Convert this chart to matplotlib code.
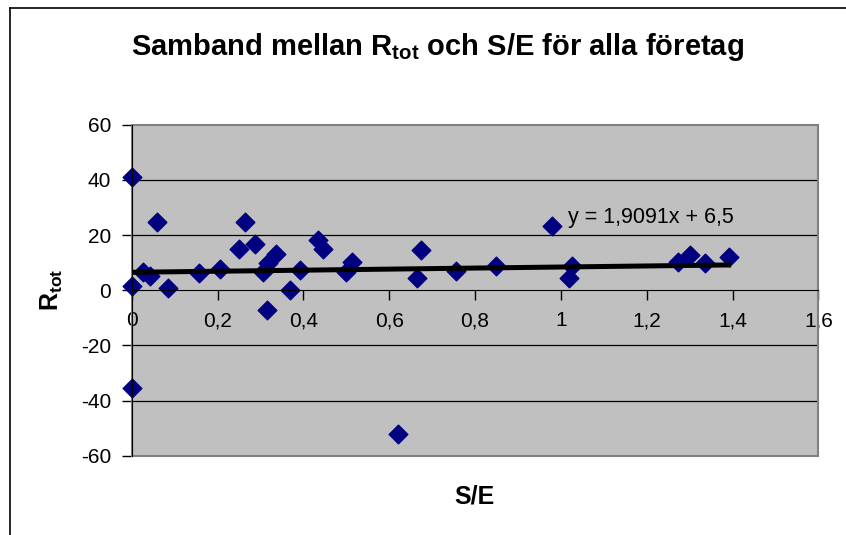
import matplotlib
matplotlib.use('Agg')
import numpy as np
import matplotlib.pyplot as plt
from matplotlib.patches import Rectangle
from matplotlib.lines import Line2D

plt.rcParams['font.family'] = ['Liberation Sans', 'DejaVu Sans']
plt.rcParams['mathtext.fontset'] = 'custom'
plt.rcParams['mathtext.rm'] = 'Liberation Sans'
plt.rcParams['mathtext.bf'] = 'Liberation Sans:bold'
plt.rcParams['axes.unicode_minus'] = False

# S/E and R_tot per company
se = [0.0, 0.0, 0.0, 0.027, 0.043, 0.058, 0.084, 0.157, 0.206, 0.250, 0.264,
      0.287, 0.307, 0.315, 0.318, 0.336, 0.369, 0.392, 0.435, 0.445, 0.500,
      0.513, 0.620, 0.664, 0.674, 0.756, 0.848, 0.980, 1.019, 1.027, 1.274,
      1.300, 1.335, 1.391]
rtot = [41.0, 1.4, -35.3, 6.7, 5.1, 24.6, 0.9, 6.3, 7.7, 15.0, 24.7,
        16.8, 6.5, -7.0, 9.9, 13.2, -0.1, 7.2, 18.1, 15.1, 6.5,
        10.3, -52.2, 4.5, 14.7, 7.1, 8.7, 23.4, 4.5, 8.7, 10.3,
        12.9, 9.9, 12.1]

# trendline as given in the chart
slope = 1.9091
intercept = 6.5

xticks = [0, 0.2, 0.4, 0.6, 0.8, 1.0, 1.2, 1.4, 1.6]
xticklabels = ['0', '0,2', '0,4', '0,6', '0,8', '1', '1,2', '1,4', '1,6']
yticks = [-60, -40, -20, 0, 20, 40, 60]

fig = plt.figure(figsize=(8.46, 5.35), dpi=100)
ax = fig.add_axes([0.1557, 0.1482, 0.9673 - 0.1557, 0.7669 - 0.1482])
ax.set_facecolor('#C0C0C0')

ax.set_xlim(0, 1.6)
ax.set_ylim(-60, 60)

for yv in yticks[1:-1]:
    if yv != 0:
        ax.axhline(yv, color='black', lw=0.9, zorder=1)

ax.scatter(se, rtot, marker='D', s=90, color='#000080', zorder=3, clip_on=False)

tx = np.array([min(se), max(se)])
ax.plot(tx, slope * tx + intercept, color='black', lw=3.6, zorder=4)
ax.text(1.017, 26.3, 'y = 1,9091x + 6,5', fontsize=15.5, va='center', ha='left')

# plot-area border
ax.add_patch(Rectangle((0, 0), 1, 1, transform=ax.transAxes, fill=False,
                       edgecolor='#808080', lw=1.5, zorder=2, clip_on=False))

for s in ['top', 'right']:
    ax.spines[s].set_visible(False)
ax.spines['left'].set_color('black')
ax.spines['left'].set_zorder(5)
ax.spines['bottom'].set_position(('data', 0))
ax.spines['bottom'].set_color('black')
ax.spines['bottom'].set_zorder(5)

ax.set_xticks(xticks)
ax.set_xticklabels(xticklabels)
ax.set_yticks(yticks)
ax.tick_params(axis='both', direction='out', length=7, width=1, labelsize=15,
               color='black', pad=8)

fig.text(438 / 846, 1 - 47 / 535, r'Samband mellan $\mathbf{R}_{\mathbf{tot}}$ och S/E för alla företag',
         fontsize=21, fontweight='bold', ha='center', va='center')
fig.text(474.5 / 846, 1 - 497 / 535, 'S/E', fontsize=18, fontweight='bold',
         ha='center', va='center')
fig.text(52 / 846, 1 - 290 / 535, r'$\mathbf{R}_{\mathbf{tot}}$', fontsize=18,
         rotation=90, ha='center', va='center')

# chart frame (left and top edges)
fig.add_artist(Line2D([10 / 846, 10 / 846], [0, 1 - 8 / 535], color='black', lw=1.2))
fig.add_artist(Line2D([10 / 846, 1], [1 - 8 / 535, 1 - 8 / 535], color='black', lw=1.2))

fig.savefig('out.png', dpi=100)
